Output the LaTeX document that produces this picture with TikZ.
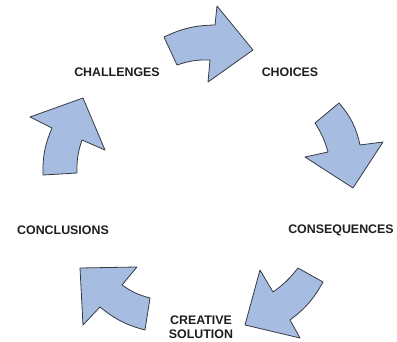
\documentclass[tikz,border=0pt]{standalone}
\usepackage{fontspec}
\setmainfont{Liberation Sans}
\begin{document}
\definecolor{arrowfill}{RGB}{166,188,224}
\definecolor{arrowline}{RGB}{55,58,66}
\definecolor{labeltext}{RGB}{30,30,30}
\begin{tikzpicture}[x=1pt,y=-1pt,
  cyclearrow/.style={fill=arrowfill,draw=arrowline,line width=0.8pt,line join=round},
  stage/.style={font=\fontsize{12.4}{13.8}\selectfont\bfseries,text=labeltext,inner sep=0pt,align=center}]
\useasboundingbox (0,0) rectangle (397,342);

% stage labels
\node[stage] (challenges) at (117,72) {CHALLENGES};
\node[stage] (choices) at (290,72) {CHOICES};
\node[stage] (consequences) at (341,230) {CONSEQUENCES};
\node[stage] (creative) at (201,327) {CREATIVE\\SOLUTION};
\node[stage] (conclusions) at (63,230) {CONCLUSIONS};

% curved block arrows running clockwise between the stages
\draw[cyclearrow] (164,37) to[bend left=12] (215,25) -- (217,6) -- (253,50)
  -- (208,82) -- (210,60) to[bend right=10] (177,65) -- cycle;
\draw[cyclearrow] (315,123) -- (339,103) to[bend left=14] (360,145) -- (383,142)
  -- (353,188) -- (305,157) -- (328,152) to[bend right=8] cycle;
\draw[cyclearrow] (298,268) -- (323,282) to[bend left=12] (290,320) -- (300,338)
  -- (245,325) -- (260,270) -- (273,292) to[bend right=8] cycle;
\draw[cyclearrow] (80,268) -- (137,267) -- (122,285) to[bend right=10] (150,298)
  -- (145,330) to[bend left=12] (100,307) -- (83,325) -- cycle;
\draw[cyclearrow] (83,98) -- (105,150) -- (82,140) to[bend right=10] (77,173)
  -- (43,175) to[bend left=12] (52,128) -- (30,117) -- cycle;
\end{tikzpicture}
\end{document}
